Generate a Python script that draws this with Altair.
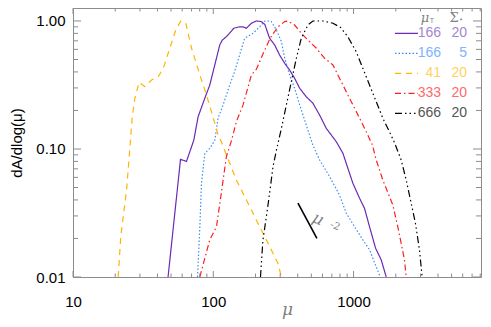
import altair as alt
import pandas as pd

# ---------------- data ----------------
mu_a = [47.6, 58.4, 64.4, 72.6, 78, 87, 94.4, 102.5, 111.2, 116, 124, 140, 153, 163, 172, 187, 203, 220, 233,
        252, 274, 297, 323, 350, 380, 413, 460, 513, 573, 639, 753, 840, 936, 989, 1104, 1197, 1300, 1435, 1575, 1710]
y_a = [0.01, 0.083, 0.080, 0.117, 0.179, 0.249, 0.316, 0.453, 0.65, 0.71, 0.754, 0.877, 0.90, 0.898, 0.877, 0.96,
       1.0, 0.99, 0.94, 0.733, 0.65, 0.542, 0.467, 0.414, 0.357, 0.298, 0.256, 0.228, 0.184, 0.145, 0.114, 0.0925,
       0.0646, 0.054, 0.0412, 0.0344, 0.0247, 0.0168, 0.0136, 0.0100]

mu_b = [77.2, 80.2, 82.4, 87, 94.4, 102.5, 108.2, 117.5, 131, 142, 154, 167.5, 192, 214, 233, 245, 259, 282, 306,
        323, 350, 380, 413, 460, 513, 573, 675, 794, 887, 1016, 1165, 1300, 1451, 1549]
y_b = [0.01, 0.0247, 0.054, 0.0926, 0.101, 0.117, 0.174, 0.221, 0.316, 0.402, 0.542, 0.733, 0.80, 0.90, 1.0, 1.0,
       0.99, 0.85, 0.689, 0.511, 0.379, 0.298, 0.221, 0.154, 0.107, 0.082, 0.0608, 0.0437, 0.0315, 0.0247, 0.0195,
       0.0163, 0.012, 0.01]

mu_c = [21.0, 21.9, 22.8, 24.1, 25.6, 26.4, 27.6, 29.6, 32.6, 36.3, 40.5, 44, 49, 54, 58.7, 63.7, 70, 80.2, 89.4,
        97, 108.2, 114, 131, 146, 163, 187, 214, 239, 266.5, 289, 306]
y_c = [0.01, 0.0206, 0.0296, 0.0478, 0.112, 0.174, 0.249, 0.332, 0.307, 0.346, 0.367, 0.427, 0.612, 0.85, 1.0,
       0.96, 0.612, 0.379, 0.264, 0.196, 0.1287, 0.114, 0.0773, 0.0573, 0.045, 0.0334, 0.0247, 0.0195, 0.0153,
       0.0128, 0.01]

mu_d = [80.2, 94.4, 105.4, 114, 124, 135, 146, 163, 187, 203, 226, 256, 289, 323, 341, 380, 424, 486, 543, 622,
        713, 773, 840, 936, 989, 1104, 1231, 1365, 1451, 1617, 1905, 2066, 2186, 2307, 2372]
y_d = [0.01, 0.0195, 0.0247, 0.045, 0.087, 0.117, 0.163, 0.221, 0.379, 0.42, 0.552, 0.743, 0.90, 0.99, 1.0, 0.93,
       0.80, 0.689, 0.612, 0.511, 0.453, 0.379, 0.316, 0.249, 0.221, 0.174, 0.1365, 0.107, 0.082, 0.0573, 0.0365,
       0.0247, 0.0183, 0.0136, 0.01]

mu_e = [217, 226, 239, 252, 266.5, 282, 306, 332, 360, 391, 424, 473, 513, 605, 713, 808, 910, 1044, 1165, 1300,
        1451, 1617, 1803, 1958, 2186, 2372, 2575, 2761, 2950, 3083]
y_e = [0.01, 0.0195, 0.0296, 0.045, 0.0727, 0.098, 0.145, 0.221, 0.336, 0.511, 0.733, 0.93, 1.0, 1.0, 0.96, 0.89,
       0.754, 0.576, 0.427, 0.316, 0.234, 0.174, 0.1365, 0.112, 0.082, 0.0573, 0.0377, 0.0263, 0.0163, 0.01]

legend_mu = ["166", "166", "41", "333", "666"]
legend_sigma = ["20", "5", "20", "20", "20"]

slope_mu = [401.5, 548]
slope_y = [0.0377, 0.02]

x_major = [10, 100, 1000]
x_minor = [20, 30, 40, 50, 60, 70, 80, 90, 200, 300, 400, 500, 600, 700, 800, 900,
           2000, 3000, 4000, 5000, 6000, 7000, 8000]
y_major = [0.01, 0.1, 1.0]
y_minor = [0.02, 0.03, 0.04, 0.05, 0.06, 0.07, 0.08, 0.09, 0.2, 0.3, 0.4, 0.5, 0.6, 0.7, 0.8, 0.9]

# ---------------- styling ----------------
W, H = 408, 269
FONT = "Liberation Sans"
SERIF = "DejaVu Serif"
FRAME = "#8c8c8c"

series = [
    (mu_a, y_a, "#6a2ab4", [1, 0], "#a287d2"),
    (mu_b, y_b, "#3a8cf5", [1.5, 2], "#7fb2ff"),
    (mu_c, y_c, "#ffb400", [6, 5], "#ffd35c"),
    (mu_d, y_d, "#ff1e1e", [6, 3, 1.5, 3], "#ff6a6a"),
    (mu_e, y_e, "#000000", [7, 3, 1.5, 3, 1.5, 3, 1.5, 3], "#555555"),
]

xs = alt.Scale(type="log", domain=[10, 8100], nice=False)
ys = alt.Scale(type="log", domain=[0.01, 1.263], nice=False)

xaxis = alt.Axis(values=x_major, format="d", labelFontSize=15, labelFont=FONT, labelColor="black",
                 ticks=False, domain=False, grid=False, labelPadding=17, labelFlush=False,
                 title="μ", titleFont=SERIF, titleFontStyle="italic", titleFontWeight="normal",
                 titleFontSize=17, titleColor="#808080", titleX=214, titleY=37, titleBaseline="alphabetic")
yaxis = alt.Axis(values=y_major, format=".2f", labelFontSize=15, labelFont=FONT, labelColor="black",
                 ticks=False, domain=False, grid=False, labelPadding=8,
                 title="dA/dlog(μ)", titleFont=FONT, titleFontWeight="normal", titleFontSize=15,
                 titleColor="black", titleAngle=270, titleX=-52, titleY=134.5,
                 titleAlign="center", titleBaseline="alphabetic")


def X(f):
    return alt.X(f, type="quantitative", scale=xs, axis=xaxis)


def Y(f):
    return alt.Y(f, type="quantitative", scale=ys, axis=yaxis)


layers = []
for mu, yv, col, dash, _ in series:
    df = pd.DataFrame({"mu": mu, "v": yv})
    layers.append(alt.Chart(df).mark_line(color=col, strokeDash=dash, strokeWidth=1.2, clip=True)
                  .encode(x=X("mu"), y=Y("v")))

# mu^-2 guide
layers.append(alt.Chart(pd.DataFrame({"mu": slope_mu, "v": slope_y}))
              .mark_line(color="black", strokeWidth=1.6).encode(x=X("mu"), y=Y("v")))
layers.append(alt.Chart(pd.DataFrame({"t": ["μ"]})).mark_text(
    font=SERIF, fontStyle="italic", fontSize=16, color="#808080", angle=25, align="center", baseline="middle")
    .encode(x=alt.value(245), y=alt.value(211), text="t:N"))
layers.append(alt.Chart(pd.DataFrame({"t": ["-2"]})).mark_text(
    font=SERIF, fontSize=10, color="#808080", angle=25, align="center", baseline="middle")
    .encode(x=alt.value(262), y=alt.value(218), text="t:N"))

# tick marks (inward, all four sides)
tx_maj = pd.DataFrame({"t": x_major})
tx_min = pd.DataFrame({"t": x_minor})
ty_maj = pd.DataFrame({"t": y_major})
ty_min = pd.DataFrame({"t": y_minor})
for df, ln in [(tx_maj, 6), (tx_min, 3.5)]:
    layers.append(alt.Chart(df).mark_rule(color=FRAME, strokeWidth=1)
                  .encode(x=X("t"), y=alt.value(H), y2=alt.value(H - ln)))
    layers.append(alt.Chart(df).mark_rule(color=FRAME, strokeWidth=1)
                  .encode(x=X("t"), y=alt.value(0), y2=alt.value(ln)))
for df, ln in [(ty_maj, 8), (ty_min, 5)]:
    layers.append(alt.Chart(df).mark_rule(color=FRAME, strokeWidth=1)
                  .encode(y=Y("t"), x=alt.value(0), x2=alt.value(ln)))
    layers.append(alt.Chart(df).mark_rule(color=FRAME, strokeWidth=1)
                  .encode(y=Y("t"), x=alt.value(W), x2=alt.value(W - ln)))

# legend
hdr = [("μ", 352, 10, 13, SERIF, "italic"), ("T", 359, 13, 7, FONT, "normal"),
       ("Σ", 381, 10, 13, SERIF, "normal"), ("*", 388, 13, 8, FONT, "normal")]
for t, x, y, fs, fnt, st in hdr:
    layers.append(alt.Chart(pd.DataFrame({"t": [t]})).mark_text(
        font=fnt, fontStyle=st, fontSize=fs, color="#808080", align="center", baseline="middle")
        .encode(x=alt.value(x), y=alt.value(y), text="t:N"))

for i, (mu, yv, col, dash, tcol) in enumerate(series):
    ry = 25.3 + 20 * i
    layers.append(alt.Chart(pd.DataFrame({"t": [legend_mu[i]]})).mark_rule(
        color=col, strokeDash=dash, strokeWidth=1.3)
        .encode(x=alt.value(322), x2=alt.value(345), y=alt.value(ry)))
    layers.append(alt.Chart(pd.DataFrame({"t": [legend_mu[i]]})).mark_text(
        font=FONT, fontSize=14, color=tcol, align="right", baseline="middle")
        .encode(x=alt.value(368), y=alt.value(ry), text="t:N"))
    layers.append(alt.Chart(pd.DataFrame({"t": [legend_sigma[i]]})).mark_text(
        font=FONT, fontSize=14, color=tcol, align="right", baseline="middle")
        .encode(x=alt.value(394), y=alt.value(ry), text="t:N"))

chart = alt.layer(*layers).properties(
    width=W, height=H,
    autosize=alt.AutoSizeParams(type="none"),
    padding={"left": 65, "top": 0, "right": 2, "bottom": 42},
    background="white",
).configure_view(stroke=FRAME, strokeWidth=1)

chart.save("out.html", embed_options={"renderer": "svg", "actions": False})
